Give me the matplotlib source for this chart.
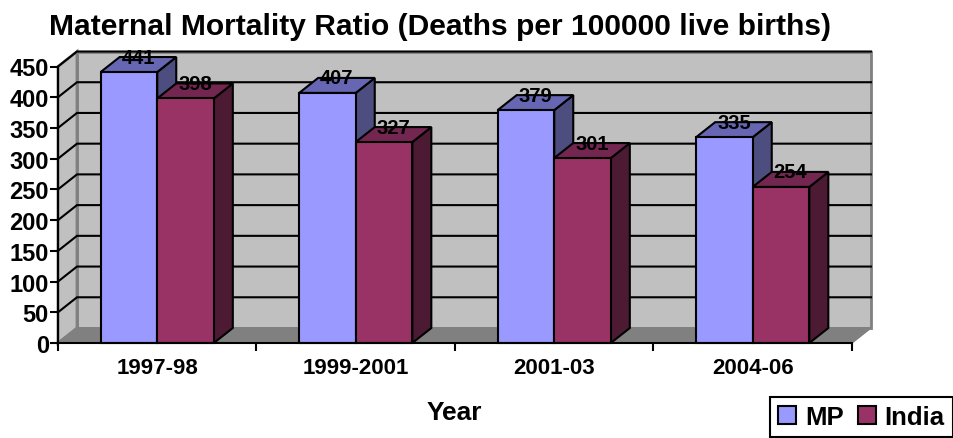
import matplotlib.pyplot as plt
from matplotlib.patches import Polygon, Patch

plt.rcParams["font.family"] = ["Liberation Sans", "DejaVu Sans"]
plt.rcParams["font.weight"] = "bold"

years = ["1997-98", "1999-2001", "2001-03", "2004-06"]
mp = [441, 407, 379, 335]
india = [398, 327, 301, 254]
y_ticks = [0, 50, 100, 150, 200, 250, 300, 350, 400, 450]

W, H = 954, 439
PX_H = 276.5
# depth of the fake 3d box, in data units
DX = 19 / 198.5
DY = 15 / (PX_H / 450)
BAR_W = 0.285

series = [
    ("MP", mp, "#9999FF", "#6666B3", "#4D4D80", -BAR_W),
    ("India", india, "#993366", "#732650", "#4D1A33", 0),
]

fig = plt.figure(figsize=(W / 100, H / 100), dpi=100)
ax = fig.add_axes([58 / W, 1 - 344 / H, (852 - 58) / W, PX_H / H])
ax.set_xlim(0, 4)
ax.set_ylim(0, 450)
ax.patch.set_alpha(0)


def poly(pts, fc, ec="black", lw=1.5, z=2):
    ax.add_patch(Polygon(pts, closed=True, facecolor=fc, edgecolor=ec, linewidth=lw,
                         zorder=z, clip_on=False, joinstyle="miter"))


# walls and floor
poly([(DX, DY), (4 + DX, DY), (4 + DX, 450 + DY), (DX, 450 + DY)], "#C0C0C0", "#808080", 2, 1)
poly([(0, 0), (DX, DY), (DX, 450 + DY), (0, 450)], "#C0C0C0", "#808080", 2, 1)
poly([(0, 0), (4, 0), (4 + DX, DY), (DX, DY)], "#808080", "#808080", 1, 1.2)

# gridlines run across the back wall and down the side wall
for t in y_ticks[1:]:
    ax.plot([0, DX, 4 + DX], [t, t + DY, t + DY], color="black", lw=1.5, zorder=1.5,
            clip_on=False, solid_joinstyle="miter")

# bars, left to right so each one overlaps the side of the previous
for i in range(len(years)):
    c = i + 0.5
    for name, vals, front, top, side, off in series:
        x0 = c + off
        x1 = x0 + BAR_W
        v = vals[i]
        z = 3 + i
        poly([(x1, 0), (x1 + DX, DY), (x1 + DX, v + DY), (x1, v)], side, z=z)
        poly([(x0, v), (x1, v), (x1 + DX, v + DY), (x0 + DX, v + DY)], top, z=z)
        poly([(x0, 0), (x1, 0), (x1, v), (x0, v)], front, z=z)

# value labels sit on the top face of each bar
for i in range(len(years)):
    c = i + 0.5
    for name, vals, front, top, side, off in series:
        ax.text(c + off + BAR_W / 2 + DX / 2, vals[i] + DY, str(vals[i]), ha="center",
                va="center", fontsize=14.5, zorder=20, color="black")

for s in ["top", "right"]:
    ax.spines[s].set_visible(False)
for s in ["left", "bottom"]:
    ax.spines[s].set_linewidth(1.5)
    ax.spines[s].set_zorder(15)

ax.set_yticks(y_ticks)
ax.set_xticks([0, 1, 2, 3, 4])
ax.set_xticklabels([])
ax.tick_params(axis="y", length=6, width=1.5, labelsize=17, pad=0.5)
ax.tick_params(axis="x", length=6, width=1.5)
for i, label in enumerate(years):
    ax.annotate(label, (i + 0.5, 0), xytext=(0, -25), textcoords="offset pixels", ha="center",
                va="center", fontsize=16)

fig.text(440 / W, 1 - 27 / H, "Maternal Mortality Ratio (Deaths per 100000 live births)",
         ha="center", va="center", fontsize=21.6)
fig.text(454 / W, 1 - 413 / H, "Year", ha="center", va="center", fontsize=19)

handles = [Patch(facecolor="#9999FF", edgecolor="black", linewidth=1.5, label="MP"),
           Patch(facecolor="#993366", edgecolor="black", linewidth=1.5, label="India")]
leg = fig.legend(handles=handles, loc="lower right", bbox_to_anchor=(953 / W, 1 - 438 / H),
                 ncol=2, fontsize=18.5, fancybox=False, framealpha=1, edgecolor="black",
                 borderaxespad=0, handlelength=0.7, handleheight=0.7, handletextpad=0.35,
                 columnspacing=0.55, borderpad=0.32)
leg.get_frame().set_linewidth(1.5)

fig.savefig("out.png", dpi=100)
